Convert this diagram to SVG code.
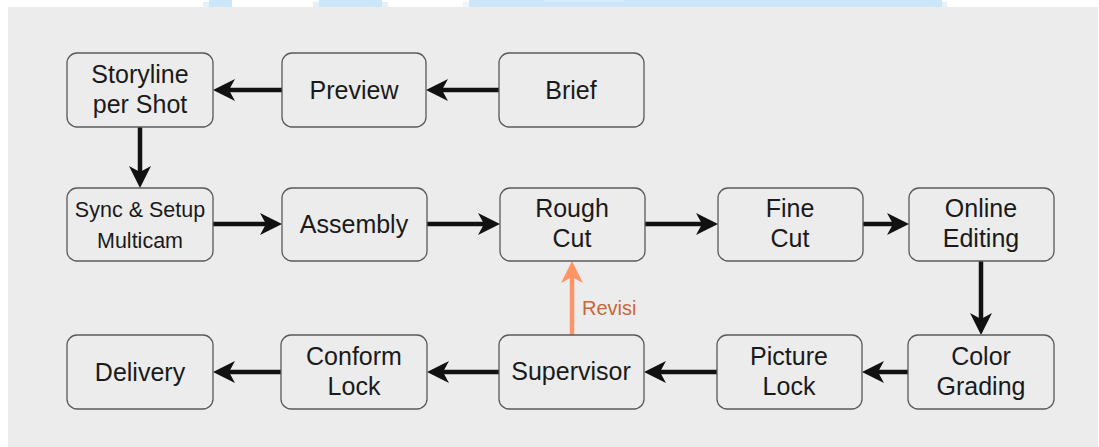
<svg xmlns="http://www.w3.org/2000/svg" width="1099" height="447" viewBox="0 0 1099 447">
  <style>
    .node rect { fill: #ececec; stroke: #595959; stroke-width: 1.3; }
    .node text { font-family: "Liberation Sans", Arial, sans-serif; font-size: 25px; fill: #1a1a1a; text-anchor: middle; }
    .node text.small { font-size: 21.5px; }
    .edge { fill: none; stroke: #111111; stroke-width: 4.5; }
    .edge.revisi { stroke: #ff9466; }
    .edge-label { font-family: "Liberation Sans", Arial, sans-serif; font-size: 20px; fill: #c8663c; }
  </style>
  <defs>
    <marker id="head" markerUnits="userSpaceOnUse" markerWidth="22" markerHeight="22" refX="6" refY="11" orient="auto">
      <path d="M0,0 L22,11 L0,22 L6,11 Z" fill="#111111"/>
    </marker>
    <marker id="head-orange" markerUnits="userSpaceOnUse" markerWidth="22" markerHeight="22" refX="6" refY="11" orient="auto">
      <path d="M0,0 L22,11 L0,22 L6,11 Z" fill="#ff9466"/>
    </marker>
  </defs>

  <!-- page background and header strip -->
  <rect x="0" y="0" width="1099" height="447" fill="#ffffff"/>
  <rect x="203" y="2" width="6" height="5" fill="#e3f1fc"/>
  <rect x="209" y="0" width="23" height="7" fill="#cce6fa"/>
  <rect x="313" y="2" width="6" height="5" fill="#e3f1fc"/>
  <rect x="319" y="0" width="63" height="7" fill="#cce6fa"/>
  <rect x="382" y="2" width="6" height="5" fill="#e3f1fc"/>
  <rect x="463" y="2" width="6" height="5" fill="#eef6fd"/>
  <rect x="469" y="0" width="473" height="7" fill="#cce6fa"/>
  <rect x="544" y="0" width="80" height="2" fill="#d6ebfb"/>
  <rect x="942" y="2" width="5" height="5" fill="#e3f1fc"/>
  <rect x="8" y="7" width="1090" height="440" fill="#ececec"/>

  <!-- connectors -->
  <g id="connectors">
    <line class="edge" x1="499" y1="90" x2="442" y2="90" marker-end="url(#head)"/>
    <line class="edge" x1="282" y1="90" x2="229" y2="90" marker-end="url(#head)"/>
    <line class="edge" x1="140" y1="127" x2="140" y2="172" marker-end="url(#head)"/>
    <line class="edge" x1="213" y1="224" x2="266" y2="224" marker-end="url(#head)"/>
    <line class="edge" x1="427" y1="224" x2="484" y2="224" marker-end="url(#head)"/>
    <line class="edge" x1="645" y1="224" x2="702" y2="224" marker-end="url(#head)"/>
    <line class="edge" x1="863" y1="224" x2="893" y2="224" marker-end="url(#head)"/>
    <line class="edge" x1="981" y1="261" x2="981" y2="319" marker-end="url(#head)"/>
    <line class="edge" x1="908" y1="372" x2="878" y2="372" marker-end="url(#head)"/>
    <line class="edge" x1="717" y1="372" x2="660" y2="372" marker-end="url(#head)"/>
    <line class="edge" x1="499" y1="372" x2="443" y2="372" marker-end="url(#head)"/>
    <line class="edge" x1="281" y1="372" x2="229" y2="372" marker-end="url(#head)"/>
    <line class="edge revisi" x1="572" y1="335" x2="572" y2="277" marker-end="url(#head-orange)"/>
    <text class="edge-label" x="582" y="315">Revisi</text>
  </g>

  <!-- row 1 -->
  <g id="storyline" class="node">
    <rect x="67" y="53" width="146" height="74" rx="10"/>
    <text x="140" y="83">Storyline</text>
    <text x="140" y="113">per Shot</text>
  </g>
  <g id="preview" class="node">
    <rect x="282" y="53" width="144" height="74" rx="10"/>
    <text x="354" y="99">Preview</text>
  </g>
  <g id="brief" class="node">
    <rect x="499" y="53" width="145" height="74" rx="10"/>
    <text x="571" y="99">Brief</text>
  </g>

  <!-- row 2 -->
  <g id="sync" class="node">
    <rect x="67" y="188" width="146" height="73" rx="10"/>
    <text class="small" x="140" y="217">Sync &amp; Setup</text>
    <text class="small" x="140" y="248">Multicam</text>
  </g>
  <g id="assembly" class="node">
    <rect x="282" y="188" width="145" height="73" rx="10"/>
    <text x="354" y="233">Assembly</text>
  </g>
  <g id="rough-cut" class="node">
    <rect x="500" y="188" width="145" height="73" rx="10"/>
    <text x="572" y="217">Rough</text>
    <text x="572" y="247">Cut</text>
  </g>
  <g id="fine-cut" class="node">
    <rect x="718" y="188" width="145" height="73" rx="10"/>
    <text x="790" y="217">Fine</text>
    <text x="790" y="247">Cut</text>
  </g>
  <g id="online-editing" class="node">
    <rect x="909" y="188" width="145" height="73" rx="10"/>
    <text x="981" y="217">Online</text>
    <text x="981" y="247">Editing</text>
  </g>

  <!-- row 3 -->
  <g id="delivery" class="node">
    <rect x="67" y="335" width="146" height="74" rx="10"/>
    <text x="140" y="381">Delivery</text>
  </g>
  <g id="conform-lock" class="node">
    <rect x="281" y="335" width="146" height="74" rx="10"/>
    <text x="354" y="365">Conform</text>
    <text x="354" y="395">Lock</text>
  </g>
  <g id="supervisor" class="node">
    <rect x="499" y="335" width="145" height="74" rx="10"/>
    <text x="571" y="380">Supervisor</text>
  </g>
  <g id="picture-lock" class="node">
    <rect x="717" y="335" width="145" height="74" rx="10"/>
    <text x="789" y="365">Picture</text>
    <text x="789" y="395">Lock</text>
  </g>
  <g id="color-grading" class="node">
    <rect x="908" y="335" width="146" height="74" rx="10"/>
    <text x="981" y="365">Color</text>
    <text x="981" y="395">Grading</text>
  </g>
</svg>
